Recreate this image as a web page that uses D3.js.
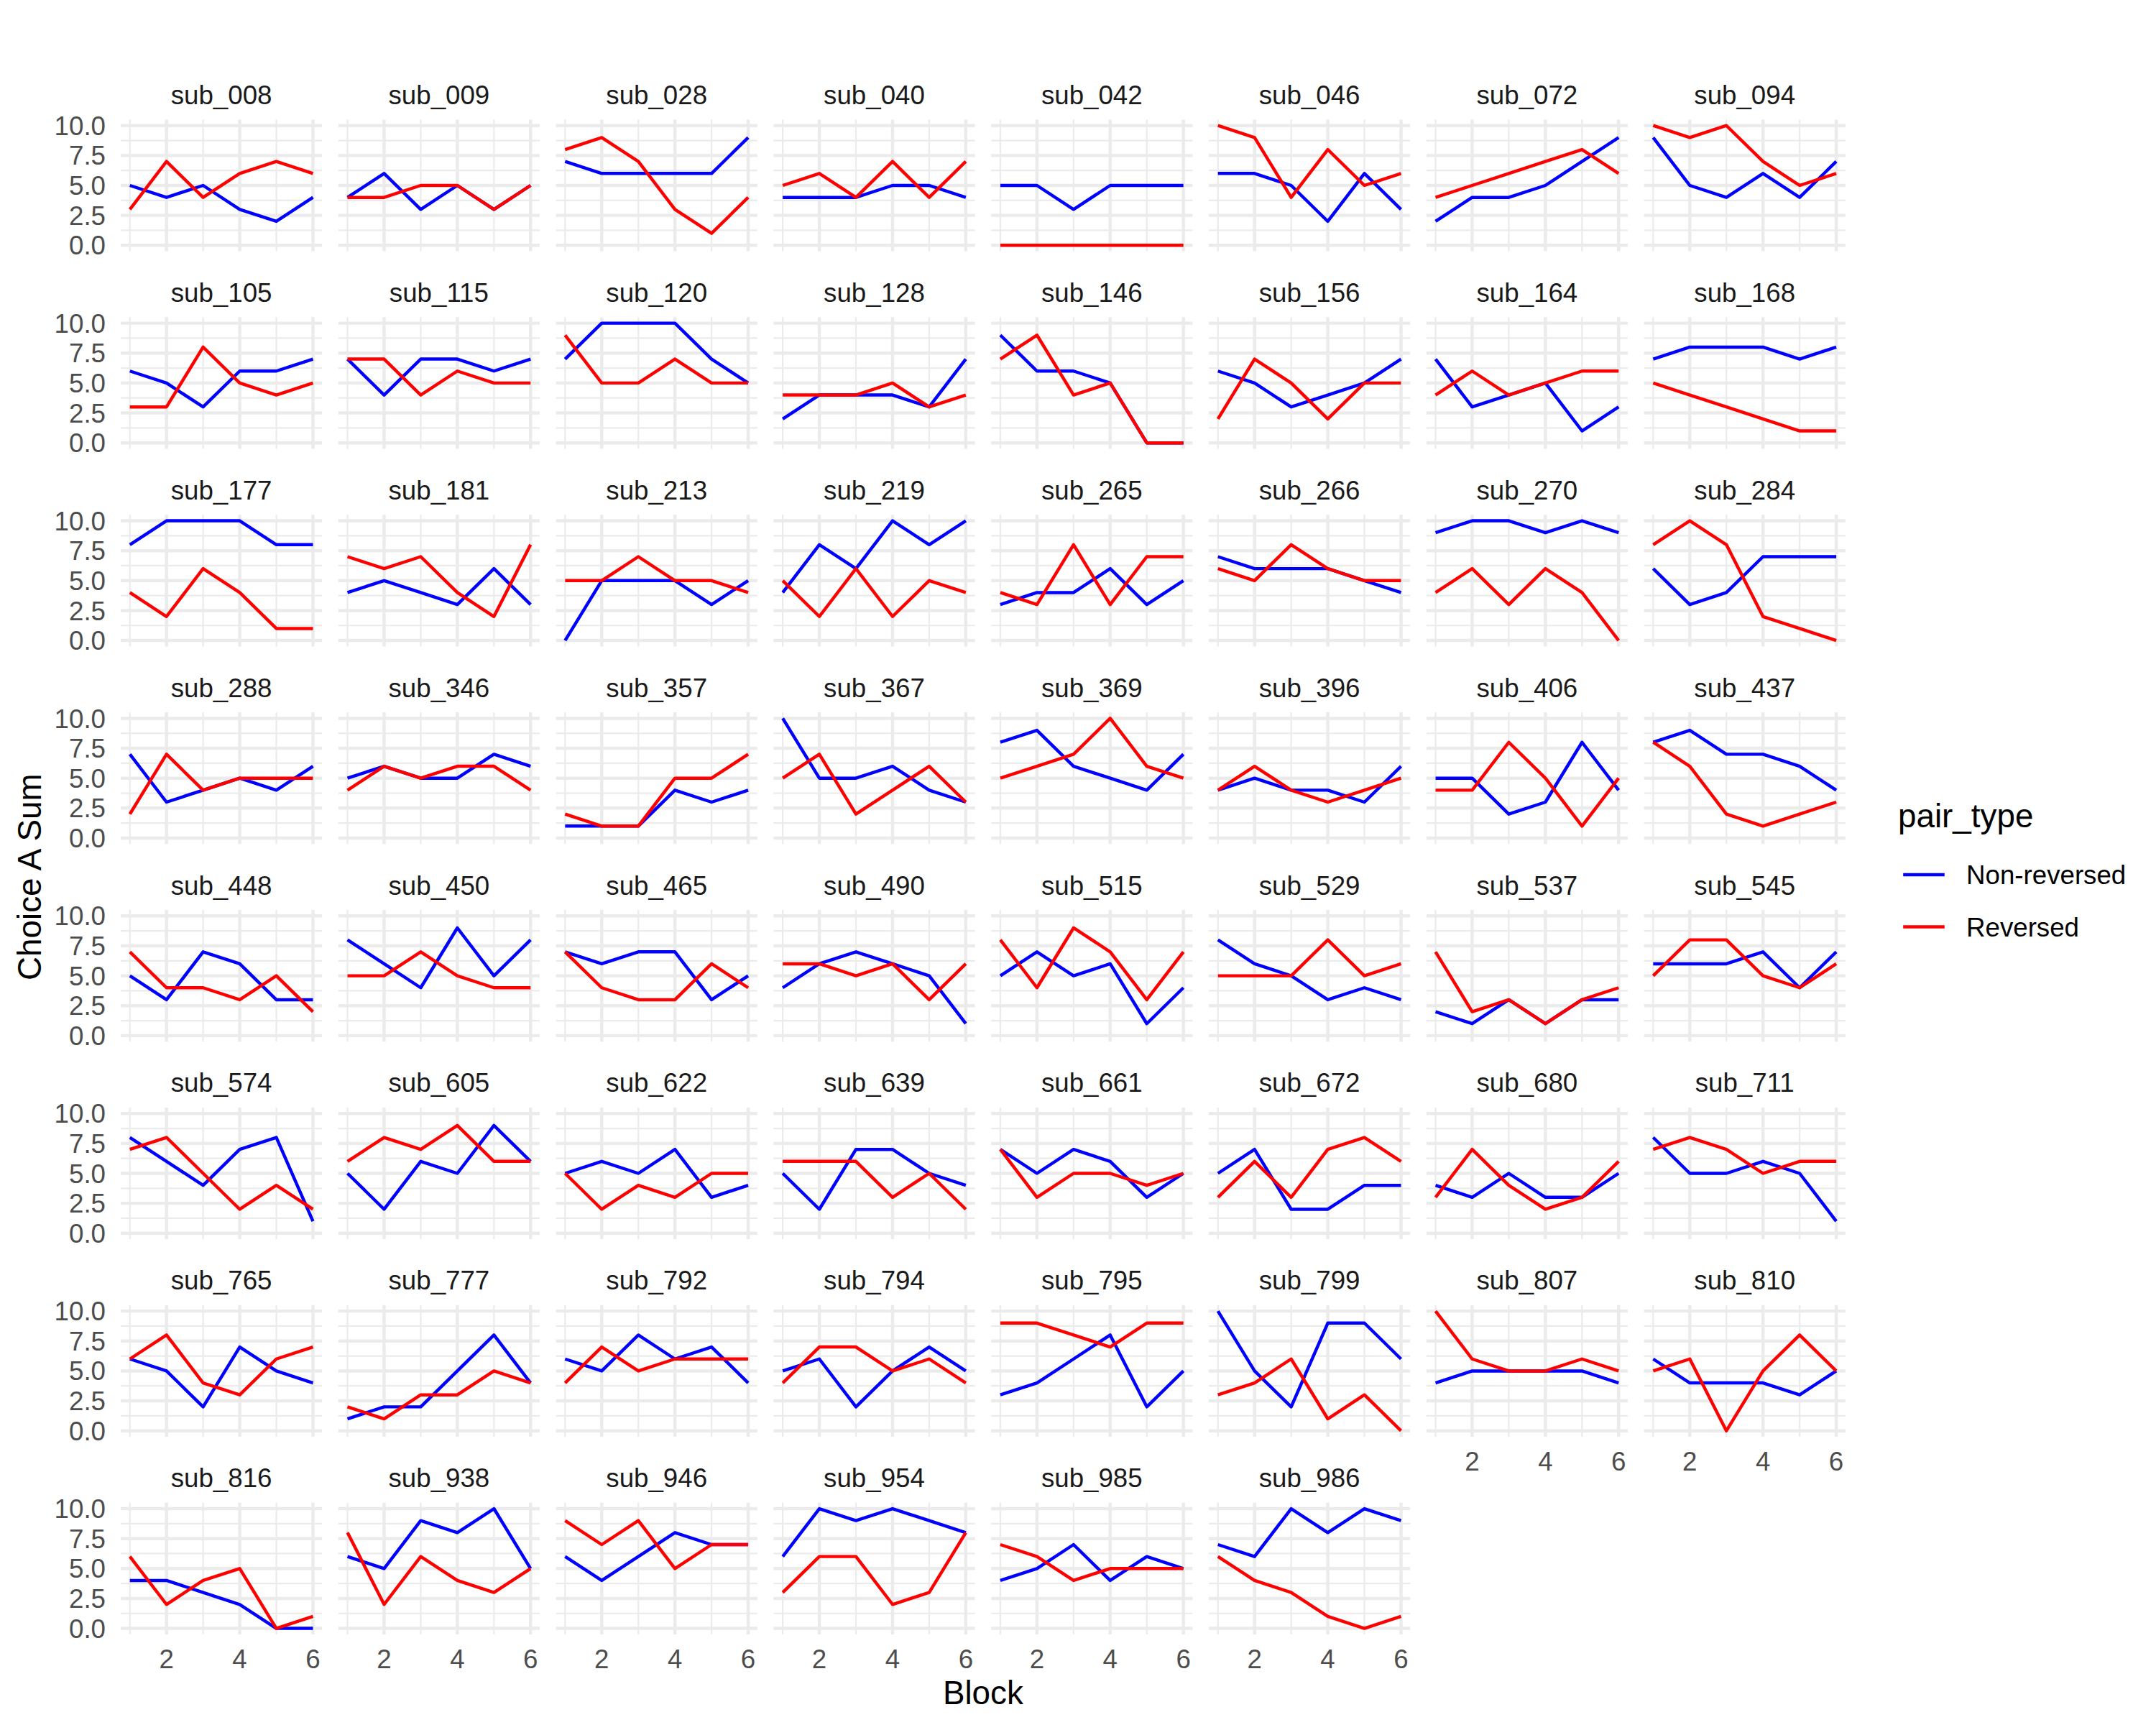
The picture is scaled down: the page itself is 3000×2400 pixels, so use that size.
<!DOCTYPE html>
<html>
<head>
<meta charset="utf-8">
<script src="https://cdn.jsdelivr.net/npm/d3@7"></script>
<style>
  html, body { margin: 0; padding: 0; background: #ffffff; }
  svg { display: block; }
  text { font-family: "Liberation Sans", Arial, Helvetica, sans-serif; }
</style>
</head>
<body>
<div id="chart"></div>
<script>
// ---------------- DATA ----------------
const subjects = [
  "sub_008","sub_009","sub_028","sub_040","sub_042","sub_046","sub_072","sub_094",
  "sub_105","sub_115","sub_120","sub_128","sub_146","sub_156","sub_164","sub_168",
  "sub_177","sub_181","sub_213","sub_219","sub_265","sub_266","sub_270","sub_284",
  "sub_288","sub_346","sub_357","sub_367","sub_369","sub_396","sub_406","sub_437",
  "sub_448","sub_450","sub_465","sub_490","sub_515","sub_529","sub_537","sub_545",
  "sub_574","sub_605","sub_622","sub_639","sub_661","sub_672","sub_680","sub_711",
  "sub_765","sub_777","sub_792","sub_794","sub_795","sub_799","sub_807","sub_810",
  "sub_816","sub_938","sub_946","sub_954","sub_985","sub_986"
];
const blocks = [1, 2, 3, 4, 5, 6];

// Non-reversed (blue), one row of 6 block sums per subject
const nonReversed = [
  [5,4,5,3,2,4],[4,6,3,5,3,5],[7,6,6,6,6,9],[4,4,4,5,5,4],[5,5,3,5,5,5],[6,6,5,2,6,3],[2,4,4,5,7,9],[9,5,4,6,4,7],
  [6,5,3,6,6,7],[7,4,7,7,6,7],[7,10,10,10,7,5],[2,4,4,4,3,7],[9,6,6,5,0,0],[6,5,3,4,5,7],[7,3,4,5,1,3],[7,8,8,8,7,8],
  [8,10,10,10,8,8],[4,5,4,3,6,3],[0,5,5,5,3,5],[4,8,6,10,8,10],[3,4,4,6,3,5],[7,6,6,6,5,4],[9,10,10,9,10,9],[6,3,4,7,7,7],
  [7,3,4,5,4,6],[5,6,5,5,7,6],[1,1,1,4,3,4],[10,5,5,6,4,3],[8,9,6,5,4,7],[4,5,4,4,3,6],[5,5,2,3,8,4],[8,9,7,7,6,4],
  [5,3,7,6,3,3],[8,6,4,9,5,8],[7,6,7,7,3,5],[4,6,7,6,5,1],[5,7,5,6,1,4],[8,6,5,3,4,3],[2,1,3,1,3,3],[6,6,6,7,4,7],
  [8,6,4,7,8,1],[5,2,6,5,9,6],[5,6,5,7,3,4],[5,2,7,7,5,4],[7,5,7,6,3,5],[5,7,2,2,4,4],[4,3,5,3,3,5],[8,5,5,6,5,1],
  [6,5,2,7,5,4],[1,2,2,5,8,4],[6,5,8,6,7,4],[5,6,2,5,7,5],[3,4,6,8,2,5],[10,5,2,9,9,6],[4,5,5,5,5,4],[6,4,4,4,3,5],
  [4,4,3,2,0,0],[6,5,9,8,10,5],[6,4,6,8,7,7],[6,10,9,10,9,8],[4,5,7,4,6,5],[7,6,10,8,10,9]
];

// Reversed (red)
const reversed = [
  [3,7,4,6,7,6],[4,4,5,5,3,5],[8,9,7,3,1,4],[5,6,4,7,4,7],[0,0,0,0,0,0],[10,9,4,8,5,6],[4,5,6,7,8,6],[10,9,10,7,5,6],
  [3,3,8,5,4,5],[7,7,4,6,5,5],[9,5,5,7,5,5],[4,4,4,5,3,4],[7,9,4,5,0,0],[2,7,5,2,5,5],[4,6,4,5,6,6],[5,4,3,2,1,1],
  [4,2,6,4,1,1],[7,6,7,4,2,8],[5,5,7,5,5,4],[5,2,6,2,5,4],[4,3,8,3,7,7],[6,5,8,6,5,5],[4,6,3,6,4,0],[8,10,8,2,1,0],
  [2,7,4,5,5,5],[4,6,5,6,6,4],[2,1,1,5,5,7],[5,7,2,4,6,3],[5,6,7,10,6,5],[4,6,4,3,4,5],[4,4,8,5,1,5],[8,6,2,1,2,3],
  [7,4,4,3,5,2],[5,5,7,5,4,4],[7,4,3,3,6,4],[6,6,5,6,3,6],[8,4,9,7,3,7],[5,5,5,8,5,6],[7,2,3,1,3,4],[5,8,8,5,4,6],
  [7,8,5,2,4,2],[6,8,7,9,6,6],[5,2,4,3,5,5],[6,6,6,3,5,2],[7,3,5,5,4,5],[3,6,3,7,8,6],[3,7,4,2,3,6],[7,8,7,5,6,6],
  [6,8,4,3,6,7],[2,1,3,3,5,4],[4,7,5,6,6,6],[4,7,7,5,6,4],[9,9,8,7,9,9],[3,4,6,1,3,0],[10,6,5,5,6,5],[5,6,0,5,8,5],
  [6,2,4,5,0,1],[8,2,6,4,3,5],[9,7,9,5,7,7],[3,6,6,2,3,8],[7,6,4,5,5,5],[6,4,3,1,0,1]
];

const seriesNames = ["Non-reversed", "Reversed"];
const seriesColors = ["#0000FF", "#FF0000"];
const yTicks = [0, 2.5, 5, 7.5, 10];
const yMinor = [1.25, 3.75, 6.25, 8.75];
const xTicks = [2, 4, 6];
const xMinor = [1, 3, 5];

// ---------------- LAYOUT ----------------
const W = 3000, H = 2400;
const nCols = 8;
const panelLeft = 168, panelTop = 166.4;
const pw = 280.2, ph = 183.2;
const colPitch = 302.8, rowPitch = 274.9;
const gridCol = "#EBEBEB";
const majorW = 4.45, minorW = 2.22, lineW = 4.45;
const fsSmall = 36.7, fsTitle = 45.8;

const svg = d3.select("#chart").append("svg")
  .attr("width", W).attr("height", H)
  .attr("viewBox", `0 0 ${W} ${H}`);
svg.append("rect").attr("width", W).attr("height", H).attr("fill", "#ffffff");

const x = d3.scaleLinear().domain([0.75, 6.25]).range([0, pw]);
const y = d3.scaleLinear().domain([-0.5, 10.5]).range([ph, 0]);
const nRows = Math.ceil(subjects.length / nCols);
const lastRowCount = subjects.length - (nRows - 1) * nCols;

const line = d3.line().x((d, i) => x(blocks[i])).y(d => y(d));

subjects.forEach((sub, i) => {
  const c = i % nCols, r = Math.floor(i / nCols);
  const px = panelLeft + c * colPitch;
  const py = panelTop + r * rowPitch;
  const g = svg.append("g").attr("transform", `translate(${px},${py})`);

  // minor grid
  g.selectAll(".ymin").data(yMinor).enter().append("line")
    .attr("x1", 0).attr("x2", pw).attr("y1", d => y(d)).attr("y2", d => y(d))
    .attr("stroke", gridCol).attr("stroke-width", minorW);
  g.selectAll(".xmin").data(xMinor).enter().append("line")
    .attr("y1", 0).attr("y2", ph).attr("x1", d => x(d)).attr("x2", d => x(d))
    .attr("stroke", gridCol).attr("stroke-width", minorW);
  // major grid
  g.selectAll(".ymaj").data(yTicks).enter().append("line")
    .attr("x1", 0).attr("x2", pw).attr("y1", d => y(d)).attr("y2", d => y(d))
    .attr("stroke", gridCol).attr("stroke-width", majorW);
  g.selectAll(".xmaj").data(xTicks).enter().append("line")
    .attr("y1", 0).attr("y2", ph).attr("x1", d => x(d)).attr("x2", d => x(d))
    .attr("stroke", gridCol).attr("stroke-width", majorW);

  // data lines
  [nonReversed[i], reversed[i]].forEach((vals, s) => {
    g.append("path").datum(vals)
      .attr("d", line)
      .attr("fill", "none")
      .attr("stroke", seriesColors[s])
      .attr("stroke-width", lineW)
      .attr("stroke-linejoin", "round")
      .attr("stroke-linecap", "butt");
  });

  // strip label
  g.append("text")
    .attr("x", pw / 2).attr("y", -21.5)
    .attr("text-anchor", "middle")
    .attr("font-size", fsSmall)
    .attr("fill", "#1A1A1A")
    .text(sub);

  // y axis labels on first column
  if (c === 0) {
    g.selectAll(".ytl").data(yTicks).enter().append("text")
      .attr("x", -21).attr("y", d => y(d) + 13.1)
      .attr("text-anchor", "end")
      .attr("font-size", fsSmall)
      .attr("fill", "#4D4D4D")
      .text(d => d3.format(".1f")(d));
  }
  // x axis labels on the bottom panel of each column
  const isBottom = (r === nRows - 1) || (r === nRows - 2 && c >= lastRowCount);
  if (isBottom) {
    g.selectAll(".xtl").data(xTicks).enter().append("text")
      .attr("x", d => x(d)).attr("y", ph + 47.4)
      .attr("text-anchor", "middle")
      .attr("font-size", fsSmall)
      .attr("fill", "#4D4D4D")
      .text(d => d3.format("d")(d));
  }
});

// axis titles
const panelsRight = panelLeft + (nCols - 1) * colPitch + pw;
const panelsBottom = panelTop + (nRows - 1) * rowPitch + ph;
svg.append("text")
  .attr("x", (panelLeft + panelsRight) / 2).attr("y", 2371)
  .attr("text-anchor", "middle")
  .attr("font-size", fsTitle).attr("fill", "#000000")
  .text("Block");
svg.append("text")
  .attr("transform", `translate(57,${(panelTop + panelsBottom) / 2}) rotate(-90)`)
  .attr("text-anchor", "middle")
  .attr("font-size", fsTitle).attr("fill", "#000000")
  .text("Choice A Sum");

// legend
const lg = svg.append("g").attr("transform", "translate(2641,0)");
lg.append("text")
  .attr("x", 0).attr("y", 1151)
  .attr("font-size", fsTitle).attr("fill", "#000000")
  .text("pair_type");
const keyY = [1217, 1289.5];
seriesNames.forEach((nm, s) => {
  lg.append("line")
    .attr("x1", 7.2).attr("x2", 64.8)
    .attr("y1", keyY[s]).attr("y2", keyY[s])
    .attr("stroke", seriesColors[s]).attr("stroke-width", lineW);
  lg.append("text")
    .attr("x", 95).attr("y", keyY[s] + 13.1)
    .attr("font-size", fsSmall).attr("fill", "#000000")
    .text(nm);
});
</script>
</body>
</html>
